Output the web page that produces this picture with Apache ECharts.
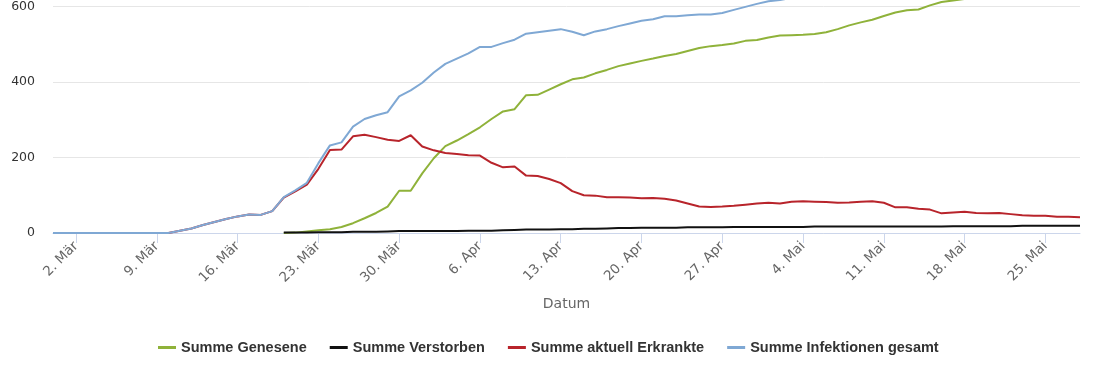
<!DOCTYPE html>
<html><head><meta charset="utf-8">
<script src="https://cdn.jsdelivr.net/npm/echarts@6/dist/echarts.min.js"></script>
<style>html,body{margin:0;padding:0;background:#fff}#c{width:1110px;height:370px}</style>
</head><body><div id="c"></div>
<script>
const dates = ["29. Feb",
"1. Mär","2. Mär","3. Mär","4. Mär","5. Mär","6. Mär","7. Mär","8. Mär","9. Mär","10. Mär",
"11. Mär","12. Mär","13. Mär","14. Mär","15. Mär","16. Mär","17. Mär","18. Mär","19. Mär","20. Mär",
"21. Mär","22. Mär","23. Mär","24. Mär","25. Mär","26. Mär","27. Mär","28. Mär","29. Mär","30. Mär","31. Mär",
"1. Apr","2. Apr","3. Apr","4. Apr","5. Apr","6. Apr","7. Apr","8. Apr","9. Apr","10. Apr",
"11. Apr","12. Apr","13. Apr","14. Apr","15. Apr","16. Apr","17. Apr","18. Apr","19. Apr","20. Apr",
"21. Apr","22. Apr","23. Apr","24. Apr","25. Apr","26. Apr","27. Apr","28. Apr","29. Apr","30. Apr",
"1. Mai","2. Mai","3. Mai","4. Mai","5. Mai","6. Mai","7. Mai","8. Mai","9. Mai","10. Mai",
"11. Mai","12. Mai","13. Mai","14. Mai","15. Mai","16. Mai","17. Mai","18. Mai","19. Mai","20. Mai",
"21. Mai","22. Mai","23. Mai","24. Mai","25. Mai","26. Mai","27. Mai","28. Mai"];

const genesene = [null,null,null,null,null,null,null,null,null,null,
 null,null,null,null,null,null,null,null,null,null,
 0,1,4,7,10,16,26,39,53,70,
 112,112,158,198,230,245,262,280,302,322,
 328,365,366,380,394,407,412,423,432,442,
 449,456,462,469,474,482,490,495,498,502,
 509,511,518,523,524,525,527,532,540,550,
 558,565,575,584,590,592,603,612,616,620,
 625,628,632,636,640,643,646,648,650,652];

const verstorben = [null,null,null,null,null,null,null,null,null,null,
 null,null,null,null,null,null,null,null,null,null,
 1,1,1,2,2,2,3,3,3,4,
 5,5,5,5,5,5,6,6,6,7,
 8,9,9,9,10,10,11,11,12,13,
 13,14,14,14,14,15,15,15,15,16,
 16,16,16,16,16,16,17,17,17,17,
 17,17,17,17,17,17,17,17,18,18,
 18,18,18,18,19,19,19,19,19,19];

const erkrankte = [null,null,null,null,0,0,0,0,0,0,
 0,6,12,21,29,37,44,49,48,58,
 94,110,128,170,220,221,256,260,254,247,
 244,259,229,219,212,209,206,205,186,174,
 176,152,151,143,132,111,100,99,95,95,
 94,92,93,91,86,78,70,69,70,72,
 75,78,80,78,83,84,83,82,80,81,
 83,84,80,68,68,64,62,52,54,56,
 53,52,53,50,47,46,46,43,43,42];

const gesamt = [0,0,0,0,0,0,0,0,0,0,
 0,6,12,21,29,37,44,49,48,58,
 95,113,133,185,232,240,282,302,312,320,
 362,378,398,425,448,462,476,493,493,503,
 512,528,532,536,540,533,524,534,540,548,
 555,562,566,574,574,577,579,579,583,591,
 599,607,614,617,623,625,627,631,637,648,
 658,666,672,669,675,673,682,681,688,694,
 696,698,703,704,706,708,711,710,712,713];

const seriesNames = ["Summe Genesene","Summe Verstorben","Summe aktuell Erkrankte","Summe Infektionen gesamt"];
const seriesColors = ["#8fb23a","#111111","#b8242b","#7fa8d4"];
const seriesData = [genesene, verstorben, erkrankte, gesamt];

const showTick = (i) => (i - 2) % 7 === 0;

const chart = echarts.init(document.getElementById('c'), null, {renderer:'canvas'});
chart.setOption({
  animation:false,
  backgroundColor:'#fff',
  grid:{left:53, right:30, top:3, bottom:137, containLabel:false},
  legend:{
    left:153, top:335, itemGap:23, itemWidth:18, itemHeight:3, icon:'rect',
    textStyle:{fontFamily:'Liberation Sans', fontWeight:'bold', fontSize:14.5, color:'#333'},
    data:seriesNames
  },
  xAxis:{
    type:'category', data:dates, boundaryGap:false,
    name:'Datum', nameLocation:'middle', nameGap:64,
    nameTextStyle:{fontFamily:'DejaVu Sans', fontSize:14, color:'#666'},
    axisLine:{lineStyle:{color:'#ccd6eb', width:1}},
    axisTick:{interval:showTick, length:10, lineStyle:{color:'#ccd6eb'}},
    axisLabel:{interval:showTick, rotate:45, margin:11, fontFamily:'DejaVu Sans', fontSize:13.5, color:'#666'},
    splitLine:{show:false}
  },
  yAxis:{
    type:'value', min:0, max:600, interval:200,
    axisLine:{show:false}, axisTick:{show:false},
    axisLabel:{margin:18, fontFamily:'DejaVu Sans', fontSize:12.5, color:'#333'},
    splitLine:{lineStyle:{color:'#e6e6e6', width:1}}
  },
  series: seriesNames.map((n, k) => ({
    name:n, type:'line', data:seriesData[k], symbol:'none', showSymbol:false,
    connectNulls:false, clip:false,
    lineStyle:{width:2, color:seriesColors[k]}, itemStyle:{color:seriesColors[k]}
  }))
});
</script></body></html>
